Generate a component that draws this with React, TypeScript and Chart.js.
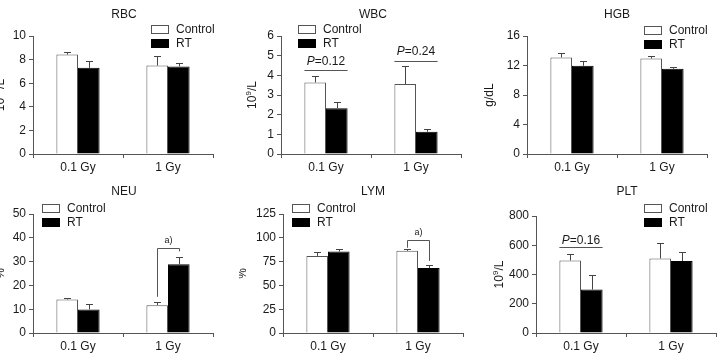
import React, { useEffect, useRef } from 'react';
import { Chart, registerables } from 'chart.js';

Chart.register(...registerables);

// ---------- data ----------
const categories = ['0.1 Gy', '1 Gy'];
const seriesNames = ['Control', 'RT'];

const rbcControl = [8.43, 7.5];
const rbcControlErr = [0.22, 0.8];
const rbcRT = [7.3, 7.42];
const rbcRTErr = [0.57, 0.25];

const wbcControl = [3.64, 3.56];
const wbcControlErr = [0.34, 0.91];
const wbcRT = [2.33, 1.13];
const wbcRTErr = [0.3, 0.12];

const hgbControl = [13.09, 12.95];
const hgbControlErr = [0.61, 0.38];
const hgbRT = [11.96, 11.55];
const hgbRTErr = [0.64, 0.26];

const neuControl = [14.1, 11.7];
const neuControlErr = [0.7, 1.3];
const neuRT = [9.9, 28.9];
const neuRTErr = [2.2, 3.2];

const lymControl = [81, 86.3];
const lymControlErr = [4.6, 2.1];
const lymRT = [85.6, 68.3];
const lymRTErr = [2.8, 3.2];

const pltControl = [496, 510];
const pltControlErr = [41, 102];
const pltRT = [297, 492];
const pltRTErr = [100, 63];

const panelTitles = ['RBC', 'WBC', 'HGB', 'NEU', 'LYM', 'PLT'];
const yMax = [10, 6, 16, 50, 125, 800];
const yStep = [2, 1, 4, 10, 25, 200];

// unit labels as parts (sup = superscript)
const unitLabels = [
  [{ t: '10' }, { t: '12', sup: true }, { t: '/L' }],
  [{ t: '10' }, { t: '9', sup: true }, { t: '/L' }],
  [{ t: 'g/dL' }],
  [{ t: '%' }],
  [{ t: '%' }],
  [{ t: '10' }, { t: '9', sup: true }, { t: '/L' }],
];

// significance annotations (values in data units)
const wbcPValues = [
  { cat: 0, lineY: 4.26, textY: 4.68, p: '=0.12' },
  { cat: 1, lineY: 4.75, textY: 5.19, p: '=0.24' },
];
const pltPValues = [{ cat: 0, lineY: 587, textY: 630, p: '=0.16' }];
const neuBrackets = [{ cat: 1, top: 35.9, leftBottom: 15.2, rightBottom: 34.3, textY: 38.9, label: 'a)' }];
const lymBrackets = [{ cat: 1, top: 97.5, leftBottom: 89.6, rightBottom: 75.7, textY: 106, label: 'a)' }];

// ---------- layout ----------
const FONT = 'Arial, "Liberation Sans", Helvetica, sans-serif';
const TEXT = '#1a1a1a';
const LINE = '#555';
const YW = 30;
const XH = 20;

const panels = [
  { control: rbcControl, controlErr: rbcControlErr, rt: rbcRT, rtErr: rbcRTErr, pvals: [], brackets: [],
    cell: { x: 0, y: 0, w: 239, h: 177 }, plot: { l: 33, t: 36, r: 213, b: 154 }, title: { x: 124, y: 15 }, unitX: 1, legend: { x: 151, y: 25 } },
  { control: wbcControl, controlErr: wbcControlErr, rt: wbcRT, rtErr: wbcRTErr, pvals: wbcPValues, brackets: [],
    cell: { x: 239, y: 0, w: 238, h: 177 }, plot: { l: 281, t: 36, r: 461, b: 154 }, title: { x: 373, y: 15 }, unitX: 253, legend: { x: 298, y: 25 } },
  { control: hgbControl, controlErr: hgbControlErr, rt: hgbRT, rtErr: hgbRTErr, pvals: [], brackets: [],
    cell: { x: 477, y: 0, w: 240, h: 177 }, plot: { l: 527, t: 36, r: 707, b: 154 }, title: { x: 617, y: 15 }, unitX: 490, legend: { x: 644, y: 26 } },
  { control: neuControl, controlErr: neuControlErr, rt: neuRT, rtErr: neuRTErr, pvals: [], brackets: neuBrackets,
    cell: { x: 0, y: 177, w: 239, h: 178 }, plot: { l: 33, t: 214, r: 213, b: 333 }, title: { x: 124, y: 192 }, unitX: 1, legend: { x: 42, y: 204 } },
  { control: lymControl, controlErr: lymControlErr, rt: lymRT, rtErr: lymRTErr, pvals: [], brackets: lymBrackets,
    cell: { x: 239, y: 177, w: 238, h: 178 }, plot: { l: 283, t: 214, r: 463, b: 333 }, title: { x: 373, y: 192 }, unitX: 243, legend: { x: 292, y: 204 } },
  { control: pltControl, controlErr: pltControlErr, rt: pltRT, rtErr: pltRTErr, pvals: pltPValues, brackets: [],
    cell: { x: 477, y: 177, w: 240, h: 178 }, plot: { l: 536, t: 216, r: 716, b: 333 }, title: { x: 627, y: 192 }, unitX: 500, legend: { x: 644, y: 204 } },
];

type Part = { t: string; sup?: boolean; italic?: boolean };

function drawParts(ctx: CanvasRenderingContext2D, parts: Part[], cx: number, cy: number, size: number) {
  const fontFor = (p: Part) => `${p.italic ? 'italic ' : ''}${p.sup ? Math.round(size * 0.65) : size}px ${FONT}`;
  let total = 0;
  const widths = parts.map((p) => {
    ctx.font = fontFor(p);
    const w = ctx.measureText(p.t).width;
    total += w;
    return w;
  });
  let x = cx - total / 2;
  ctx.textBaseline = 'middle';
  ctx.textAlign = 'left';
  parts.forEach((p, i) => {
    ctx.font = fontFor(p);
    ctx.fillText(p.t, x, cy + (p.sup ? -size * 0.35 : 0));
    x += widths[i];
  });
}

function makePlugin(idx: number) {
  const pn = panels[idx];
  const ox = pn.cell.x;
  const oy = pn.cell.y;
  return {
    id: 'panelDecor' + idx,
    afterDatasetsDraw(chart: any) {
      const ctx: CanvasRenderingContext2D = chart.ctx;
      const ys = chart.scales.y;
      const vals = [pn.control, pn.rt];
      const errs = [pn.controlErr, pn.rtErr];
      ctx.save();
      ctx.strokeStyle = '#444';
      ctx.lineWidth = 1;
      for (let d = 0; d < 2; d++) {
        const meta = chart.getDatasetMeta(d);
        meta.data.forEach((el: any, j: number) => {
          const x = Math.round(el.x) + 0.5;
          const yTop = ys.getPixelForValue(vals[d][j]);
          const yErr = Math.round(ys.getPixelForValue(vals[d][j] + errs[d][j])) + 0.5;
          ctx.beginPath();
          ctx.moveTo(x, yTop);
          ctx.lineTo(x, yErr);
          ctx.moveTo(x - 3.5, yErr);
          ctx.lineTo(x + 3.5, yErr);
          ctx.stroke();
        });
      }
      ctx.restore();
    },
    afterDraw(chart: any) {
      const ctx: CanvasRenderingContext2D = chart.ctx;
      const ys = chart.scales.y;
      ctx.save();
      ctx.fillStyle = TEXT;
      // title
      ctx.font = `12px ${FONT}`;
      ctx.textAlign = 'center';
      ctx.textBaseline = 'middle';
      ctx.fillText(panelTitles[idx], pn.title.x - ox, pn.title.y - oy);
      // unit label (rotated)
      const cy = (chart.chartArea.top + chart.chartArea.bottom) / 2;
      ctx.save();
      ctx.translate(pn.unitX - ox, cy);
      ctx.rotate(-Math.PI / 2);
      drawParts(ctx, unitLabels[idx] as Part[], 0, 0, 12);
      ctx.restore();
      // legend
      const lx = pn.legend.x - ox;
      const ly = pn.legend.y - oy;
      ctx.lineWidth = 1;
      ctx.fillStyle = '#fff';
      ctx.strokeStyle = '#555';
      ctx.fillRect(lx + 0.5, ly + 0.5, 17, 8);
      ctx.strokeRect(lx + 0.5, ly + 0.5, 17, 8);
      ctx.fillStyle = '#000';
      ctx.fillRect(lx, ly + 14, 18, 9);
      ctx.fillStyle = TEXT;
      ctx.font = `12px ${FONT}`;
      ctx.textAlign = 'left';
      ctx.textBaseline = 'middle';
      ctx.fillText(seriesNames[0], lx + 25, ly + 5);
      ctx.fillText(seriesNames[1], lx + 25, ly + 19);
      // p-value lines
      const m0 = chart.getDatasetMeta(0);
      const m1 = chart.getDatasetMeta(1);
      ctx.strokeStyle = '#555';
      ctx.lineWidth = 1;
      pn.pvals.forEach((a: any) => {
        const e0 = m0.data[a.cat];
        const e1 = m1.data[a.cat];
        const x0 = e0.x - e0.width / 2;
        const x1 = e1.x + e1.width / 2;
        const y = Math.round(ys.getPixelForValue(a.lineY)) + 0.5;
        ctx.beginPath();
        ctx.moveTo(x0, y);
        ctx.lineTo(x1, y);
        ctx.stroke();
        ctx.fillStyle = TEXT;
        drawParts(ctx, [{ t: 'P', italic: true }, { t: a.p }], (x0 + x1) / 2, ys.getPixelForValue(a.textY), 12);
      });
      pn.brackets.forEach((b: any) => {
        const e0 = m0.data[b.cat];
        const e1 = m1.data[b.cat];
        const x0 = Math.round(e0.x) + 0.5;
        const x1 = Math.round(e1.x) + 0.5;
        const yt = Math.round(ys.getPixelForValue(b.top)) + 0.5;
        ctx.beginPath();
        ctx.moveTo(x0, ys.getPixelForValue(b.leftBottom));
        ctx.lineTo(x0, yt);
        ctx.lineTo(x1, yt);
        ctx.lineTo(x1, ys.getPixelForValue(b.rightBottom));
        ctx.stroke();
        ctx.fillStyle = TEXT;
        ctx.font = `9px ${FONT}`;
        ctx.textAlign = 'center';
        ctx.textBaseline = 'middle';
        ctx.fillText(b.label, (x0 + x1) / 2, ys.getPixelForValue(b.textY));
      });
      ctx.restore();
    },
  };
}

function buildChart(canvas: HTMLCanvasElement, idx: number) {
  const pn = panels[idx];
  const padding = {
    left: pn.plot.l - pn.cell.x - YW,
    top: pn.plot.t - pn.cell.y,
    right: pn.cell.x + pn.cell.w - pn.plot.r,
    bottom: pn.cell.y + pn.cell.h - pn.plot.b - XH,
  };
  return new Chart(canvas, {
    type: 'bar',
    data: {
      labels: categories,
      datasets: [
        {
          label: seriesNames[0],
          data: pn.control,
          backgroundColor: '#ffffff',
          borderColor: '#555',
          borderWidth: 1,
          categoryPercentage: 0.48,
          barPercentage: 1,
        },
        {
          label: seriesNames[1],
          data: pn.rt,
          backgroundColor: '#000000',
          borderColor: '#000000',
          borderWidth: 1,
          categoryPercentage: 0.48,
          barPercentage: 1,
        },
      ],
    },
    options: {
      responsive: false,
      animation: false,
      devicePixelRatio: 1,
      layout: { padding },
      plugins: {
        legend: { display: false },
        title: { display: false },
        tooltip: { enabled: false },
      },
      scales: {
        x: {
          offset: true,
          grid: { display: true, offset: true, drawOnChartArea: false, drawTicks: true, tickLength: 4, color: LINE },
          border: { display: true, color: LINE, width: 1 },
          ticks: { color: TEXT, padding: 2, font: { family: FONT, size: 12 } },
          afterFit: (s: any) => { s.height = XH; },
        },
        y: {
          min: 0,
          max: yMax[idx],
          ticks: { stepSize: yStep[idx], color: TEXT, padding: 3, font: { family: FONT, size: 12 } },
          grid: { display: true, drawOnChartArea: false, drawTicks: true, tickLength: 4, color: LINE },
          border: { display: true, color: LINE, width: 1 },
          afterFit: (s: any) => { s.width = YW; },
        },
      },
    } as any,
    plugins: [makePlugin(idx)],
  });
}

function Panel({ idx }: { idx: number }) {
  const ref = useRef<HTMLCanvasElement | null>(null);
  const pn = panels[idx];
  useEffect(() => {
    if (!ref.current) return;
    const ch = buildChart(ref.current, idx);
    return () => ch.destroy();
  }, [idx]);
  return (
    <canvas
      ref={ref}
      width={pn.cell.w}
      height={pn.cell.h}
      style={{ position: 'absolute', left: pn.cell.x, top: pn.cell.y, width: pn.cell.w, height: pn.cell.h }}
    />
  );
}

export default function App() {
  return (
    <div style={{ position: 'absolute', left: 0, top: 0, width: 717, height: 355, background: '#fff', overflow: 'hidden' }}>
      {panels.map((_, i) => (
        <Panel key={i} idx={i} />
      ))}
    </div>
  );
}
